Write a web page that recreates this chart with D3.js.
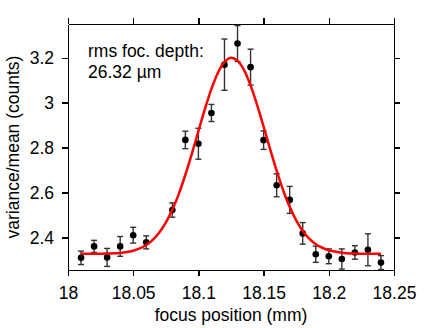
<!DOCTYPE html>
<html lang="en">
<head>
<meta charset="UTF-8">
<style>
    body { margin: 0; background: #fff; }
    svg { display: block; font-family: "Liberation Sans", Arial, sans-serif; }
    .axis path, .axis line { fill: none; stroke: #000; stroke-width: 1.3; shape-rendering: crispEdges; }
    .axis text { font-size: 17.5px; fill: #000; }
    .err line { stroke: #333; stroke-width: 1.4; }
</style>
</head>
<body>
<div id="chart"></div>
<script src="https://cdn.jsdelivr.net/npm/d3@7"></script>
<script>
// measured points: focus position (mm), variance/mean, error
var focusPos = [18.01, 18.02, 18.03, 18.04, 18.05, 18.06, 18.08, 18.09, 18.10, 18.11, 18.12, 18.13,
                18.14, 18.15, 18.16, 18.17, 18.18, 18.19, 18.20, 18.21, 18.22, 18.23, 18.24];
var varMean = [2.309, 2.360, 2.311, 2.360, 2.410, 2.378, 2.522, 2.834, 2.817, 2.954, 3.169, 3.263,
               3.158, 2.833, 2.632, 2.567, 2.418, 2.325, 2.316, 2.304, 2.333, 2.345, 2.288];
var errBar = [0.030, 0.027, 0.040, 0.044, 0.035, 0.029, 0.032, 0.039, 0.069, 0.038, 0.114, 0.080,
              0.080, 0.041, 0.051, 0.060, 0.048, 0.036, 0.033, 0.045, 0.030, 0.071, 0.031];

// fitted curve
var fitX = [18.01, 18.02, 18.03, 18.04, 18.05, 18.055, 18.06, 18.065, 18.07, 18.075, 18.08, 18.085,
            18.09, 18.095, 18.10, 18.105, 18.11, 18.115, 18.12, 18.125, 18.13, 18.135, 18.14, 18.145,
            18.15, 18.155, 18.16, 18.165, 18.17, 18.175, 18.18, 18.185, 18.19, 18.195, 18.20, 18.21,
            18.22, 18.23, 18.24];
var fitY = [2.327, 2.327, 2.328, 2.331, 2.341, 2.351, 2.366, 2.389, 2.422, 2.466, 2.523, 2.594,
            2.679, 2.773, 2.873, 2.972, 3.061, 3.133, 3.181, 3.200, 3.187, 3.145, 3.077, 2.990,
            2.893, 2.793, 2.697, 2.610, 2.536, 2.476, 2.429, 2.395, 2.370, 2.354, 2.343, 2.332,
            2.328, 2.327, 2.327];

var xTicks = [18, 18.05, 18.1, 18.15, 18.2, 18.25];
var yTicks = [2.4, 2.6, 2.8, 3, 3.2];

var margin = { top: 24, right: 42, bottom: 58, left: 68 },
    width = 436 - margin.left - margin.right,
    height = 328 - margin.top - margin.bottom;

var svg = d3.select("#chart").append("svg")
    .attr("width", 436)
    .attr("height", 328)
    .append("g")
    .attr("transform", "translate(" + margin.left + "," + margin.top + ")");

var x = d3.scaleLinear().domain([18, 18.25]).range([0, width]);
var y = d3.scaleLinear().domain([2.255, 3.35]).range([height, 0]);

svg.append("g")
    .attr("class", "axis")
    .attr("transform", "translate(0," + height + ")")
    .call(d3.axisBottom(x).tickValues(xTicks).tickSize(6).tickSizeOuter(0).tickPadding(11)
        .tickFormat(function (d) { return String(d); }));

svg.append("g")
    .attr("class", "axis")
    .call(d3.axisTop(x).tickValues(xTicks).tickSize(6).tickSizeOuter(0).tickFormat(""));

svg.append("g")
    .attr("class", "axis")
    .call(d3.axisLeft(y).tickValues(yTicks).tickSize(6).tickSizeOuter(0).tickPadding(8)
        .tickFormat(function (d) { return String(d); }));

svg.append("g")
    .attr("class", "axis")
    .attr("transform", "translate(" + width + ",0)")
    .call(d3.axisRight(y).tickValues(yTicks).tickSize(6).tickSizeOuter(0).tickFormat(""));

// error bars
var pts = d3.zip(focusPos, varMean, errBar);
var err = svg.append("g").attr("class", "err")
    .selectAll("g").data(pts).enter().append("g");
err.append("line")
    .attr("x1", function (d) { return x(d[0]); })
    .attr("x2", function (d) { return x(d[0]); })
    .attr("y1", function (d) { return y(d[1] - d[2]); })
    .attr("y2", function (d) { return y(d[1] + d[2]); });
err.append("line")
    .attr("x1", function (d) { return x(d[0]) - 3; })
    .attr("x2", function (d) { return x(d[0]) + 3; })
    .attr("y1", function (d) { return y(d[1] + d[2]); })
    .attr("y2", function (d) { return y(d[1] + d[2]); });
err.append("line")
    .attr("x1", function (d) { return x(d[0]) - 3; })
    .attr("x2", function (d) { return x(d[0]) + 3; })
    .attr("y1", function (d) { return y(d[1] - d[2]); })
    .attr("y2", function (d) { return y(d[1] - d[2]); });

svg.append("g").selectAll("circle").data(pts).enter().append("circle")
    .attr("cx", function (d) { return x(d[0]); })
    .attr("cy", function (d) { return y(d[1]); })
    .attr("r", 3.3)
    .attr("fill", "#000");

// fit curve
var line = d3.line()
    .x(function (d) { return x(d[0]); })
    .y(function (d) { return y(d[1]); })
    .curve(d3.curveCatmullRom);

svg.append("path")
    .attr("d", line(d3.zip(fitX, fitY)))
    .attr("fill", "none")
    .attr("stroke", "#f00")
    .attr("stroke-width", 2.5);

// labels
svg.append("text")
    .attr("x", width / 2)
    .attr("y", height + 51)
    .attr("text-anchor", "middle")
    .attr("font-size", "17.5px")
    .text("focus position (mm)");

svg.append("text")
    .attr("transform", "translate(" + (-49) + "," + (height / 2) + ") rotate(-90)")
    .attr("text-anchor", "middle")
    .attr("font-size", "17.5px")
    .text("variance/mean (counts)");

var note = svg.append("text")
    .attr("x", 20)
    .attr("y", 33)
    .attr("font-size", "17.5px");
note.append("tspan").attr("x", 20).text("rms foc. depth:");
note.append("tspan").attr("x", 20).attr("dy", 21).text("26.32 \u00b5m");
</script>
</body>
</html>
